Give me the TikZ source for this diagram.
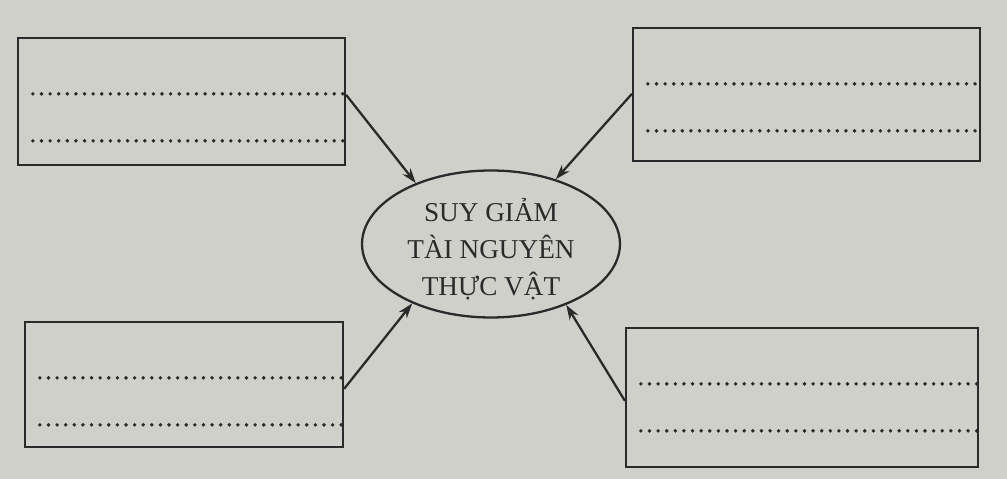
\documentclass[tikz,border=0pt]{standalone}
\usepackage{fontspec}
\setmainfont{Liberation Serif}
\usepackage{xcolor}
\usetikzlibrary{arrows.meta, shapes.geometric, positioning}
\definecolor{paper}{RGB}{208,208,203}
\definecolor{ink}{RGB}{42,42,42}

\begin{document}
\begin{tikzpicture}[x=0.02cm, y=0.02cm, >={Stealth[length=0.3cm, width=0.2cm]}, line width=1.3pt, every node/.style={font=\fontsize{15.5}{21}\selectfont}]
    % Define styles for boxes, ellipse and dotted lines
    \tikzstyle{box} = [draw=ink, rectangle, inner sep=0pt]
    \tikzstyle{topic} = [draw=ink, ellipse, inner sep=0pt, minimum width=5.16cm, minimum height=2.94cm]
    \tikzstyle{dots} = [draw=ink, line width=2.2pt, line cap=round, dash pattern=on 0pt off 4.9pt]
    \tikzstyle{arrow} = [draw=ink, ->]

    % Paper background
    \fill[paper] (0,0) rectangle (1007,479);

    % Nodes placement
    \node [topic, label={[text=ink, align=center, yshift=-0.1cm]center:SUY GIẢM\\TÀI NGUYÊN\\THỰC VẬT}] (ell) at (491,235) {};
    \node [box, minimum width=6.54cm, minimum height=2.54cm] (tl) at (181.5,377.5) {};
    \node [box, minimum width=6.94cm, minimum height=2.66cm] (tr) at (806.5,384.5) {};
    \node [box, minimum width=6.36cm, minimum height=2.50cm] (bl) at (184,94.5) {};
    \node [box, minimum width=7.04cm, minimum height=2.78cm] (br) at (802,81.5) {};

    % Dotted answer lines in every box
    \foreach \b in {tl,tr,bl,br} {
        \draw[dots] ([xshift=0.32cm,yshift=-1.14cm]\b.north west) -- ([yshift=-1.14cm]\b.north east);
        \draw[dots] ([xshift=0.32cm,yshift=-2.08cm]\b.north west) -- ([yshift=-2.08cm]\b.north east);
    }

    % Draw edges
    \draw[arrow] ([yshift=-1.16cm]tl.north east) -- (ell.141);
    \draw[arrow] ([yshift=-1.34cm]tr.north west) -- (ell.45);
    \draw[arrow] ([yshift=-1.36cm]bl.north east) -- (ell.217);
    \draw[arrow] ([yshift=-1.48cm]br.north west) -- (ell.321);
\end{tikzpicture}
\end{document}
